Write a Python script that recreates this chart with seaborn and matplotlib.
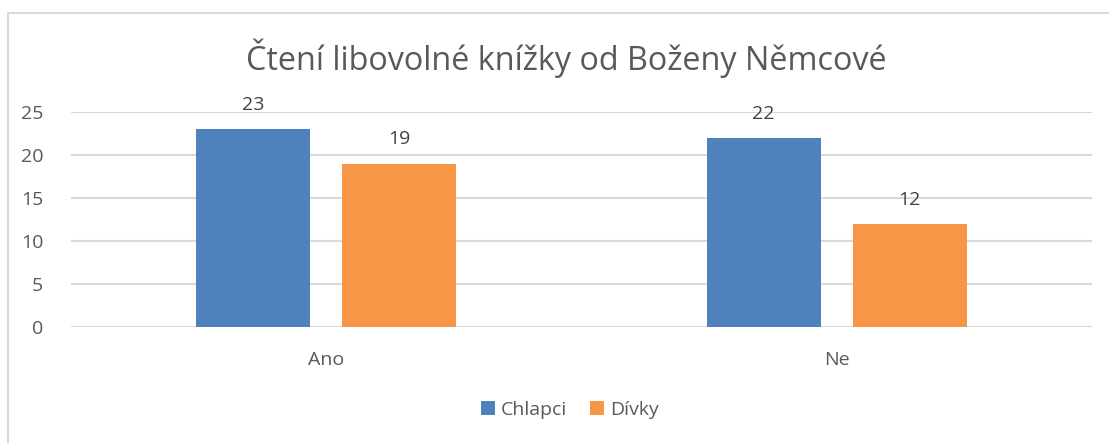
import matplotlib
matplotlib.use("Agg")
import matplotlib.pyplot as plt
import seaborn as sns
import pandas as pd
from matplotlib.lines import Line2D
from matplotlib.patches import Patch

categories = ["Ano", "Ne"]
series_names = ["Chlapci", "Dívky"]
chlapci = [23, 22]
divky = [19, 12]
colors = ["#4F81BD", "#F79646"]
title = "Čtení libovolné knížky od Boženy Němcové"

df = pd.DataFrame({
    "kategorie": categories * 2,
    "skupina": [series_names[0]] * 2 + [series_names[1]] * 2,
    "hodnota": chlapci + divky,
})

sns.set_theme(style="white")
fam = ["Open Sans", "DejaVu Sans"]
plt.rcParams["font.family"] = fam
txt = "#595959"

fig = plt.figure(figsize=(11.09, 4.43), dpi=100)
ax = fig.add_axes([71 / 1109, 116 / 443, (1092 - 71) / 1109, (327 - 112) / 443])

sns.barplot(data=df, x="kategorie", y="hodnota", hue="skupina", order=categories,
            hue_order=series_names, palette=colors, width=0.572, gap=0.219,
            saturation=1, ax=ax, legend=False, linewidth=0)

ax.set_ylim(0, 25)
ax.set_xlim(-0.5, 1.5)
ax.set_yticks([0, 5, 10, 15, 20, 25])
ax.yaxis.grid(True, color="#D9D9D9", linewidth=1.5)
ax.set_axisbelow(True)
for s in ax.spines.values():
    s.set_visible(False)
ax.set_xlabel("")
ax.set_ylabel("")
ax.tick_params(axis="y", length=0, pad=20, labelsize=14, labelcolor=txt)
ax.tick_params(axis="x", length=0, pad=17, labelsize=14, labelcolor=txt)

for cont in ax.containers:
    ax.bar_label(cont, padding=11, fontsize=14, color="#404040")

fig.text(566 / 1109, 1 - 58 / 443, title, ha="center", va="center",
         fontsize=23.3, color=txt)

handles = [Patch(facecolor=c, edgecolor="none") for c in colors]
fig.legend(handles, series_names, loc="center", bbox_to_anchor=(570 / 1109, 1 - 410 / 443),
           ncol=2, frameon=False, fontsize=14, labelcolor=txt,
           handlelength=0.7, handleheight=0.7, handletextpad=0.3, columnspacing=1.2)

# chart border (left and top visible)
fig.add_artist(Line2D([8 / 1109, 8 / 1109], [0, 1 - 13 / 443], color="#D9D9D9",
                      linewidth=1.5, transform=fig.transFigure))
fig.add_artist(Line2D([8 / 1109, 1], [1 - 13 / 443, 1 - 13 / 443], color="#D9D9D9",
                      linewidth=1.5, transform=fig.transFigure))

fig.savefig("out.png", dpi=100)
